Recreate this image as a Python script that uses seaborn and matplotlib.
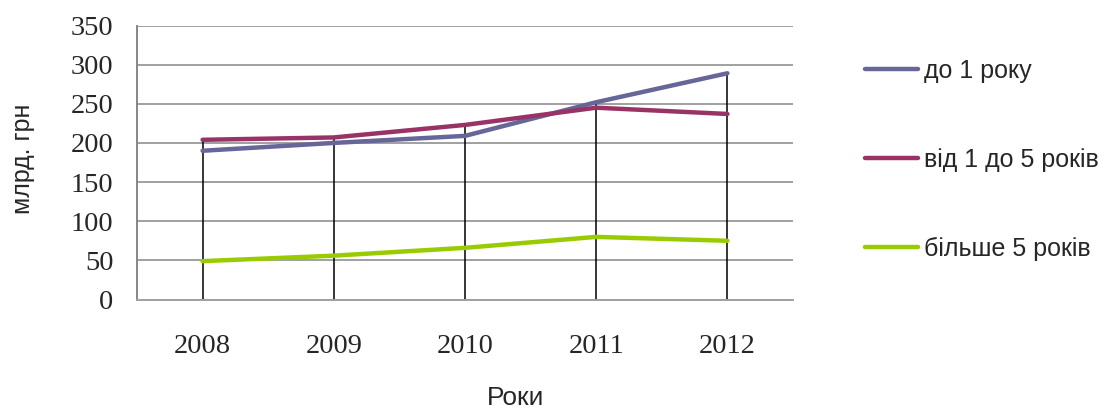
import pandas as pd
import matplotlib.pyplot as plt
import seaborn as sns

years = ["2008", "2009", "2010", "2011", "2012"]
series_names = ["до 1 року", "від 1 до 5 років", "більше 5 років"]
up_to_1 = [190, 200, 209, 252, 289]
from_1_to_5 = [204, 207, 223, 245, 237]
over_5 = [49, 56, 66, 80, 75]
colors = ["#666699", "#993366", "#99CC00"]

rows = []
for name, vals in zip(series_names, [up_to_1, from_1_to_5, over_5]):
    for i, (y, v) in enumerate(zip(years, vals)):
        rows.append({"idx": i, "Рік": y, "Серія": name, "Значення": v})
df = pd.DataFrame(rows)

sns.set_style("white")
plt.rcParams["font.family"] = ["Liberation Sans", "DejaVu Sans"]

fig = plt.figure(figsize=(11.16, 4.09), dpi=100)
ax = fig.add_axes([137 / 1116, 1 - 299.5 / 409, 656 / 1116, 274 / 409])

# horizontal grid
ax.set_ylim(0, 350)
ax.set_xlim(-0.5, len(years) - 0.5)
ax.set_yticks(range(0, 351, 50))
ax.yaxis.grid(True, color="#a0a0a0", linewidth=1.4, zorder=0)
ax.set_axisbelow(True)

# drop lines from the highest value down to the axis
tops = df.groupby("idx")["Значення"].max()
ax.vlines(tops.index, 0, tops.values, color="black", linewidth=1.1, zorder=1)

sns.lineplot(data=df, x="idx", y="Значення", hue="Серія", hue_order=series_names,
             palette=colors, linewidth=3.2, ax=ax, zorder=3, legend=True)

ax.set_xticks(range(len(years)))
ax.set_xticklabels(years)
for lab in ax.get_xticklabels() + ax.get_yticklabels():
    lab.set_family("Liberation Serif")
    lab.set_fontsize(20.5)
ax.tick_params(axis="x", length=0, pad=25)
ax.tick_params(axis="y", length=6.5, width=1.2, color="#868686", pad=10.5, direction="out")

for side in ["top", "right"]:
    ax.spines[side].set_visible(False)
ax.spines["left"].set_color("#868686")
ax.spines["left"].set_linewidth(1.4)
ax.spines["bottom"].set_color("#a0a0a0")
ax.spines["bottom"].set_linewidth(1.4)

ax.set_xlabel("")
ax.set_ylabel("")
fig.text(23 / 1116, 1 - 159 / 409, "млрд. грн", rotation=90, fontsize=18,
         ha="center", va="center")
fig.text(516 / 1116, 1 - 398 / 409, "Роки", fontsize=19, ha="center", va="center")

leg = ax.legend(loc="center left", bbox_to_anchor=(865 / 1116, 1 - 160 / 409),
                bbox_transform=fig.transFigure, frameon=False, fontsize=18,
                handlelength=2.1, handletextpad=0.25, labelspacing=2.6,
                borderpad=0, borderaxespad=0)
for h in leg.get_lines():
    h.set_linewidth(3.2)

fig.savefig("out.png", dpi=100)
